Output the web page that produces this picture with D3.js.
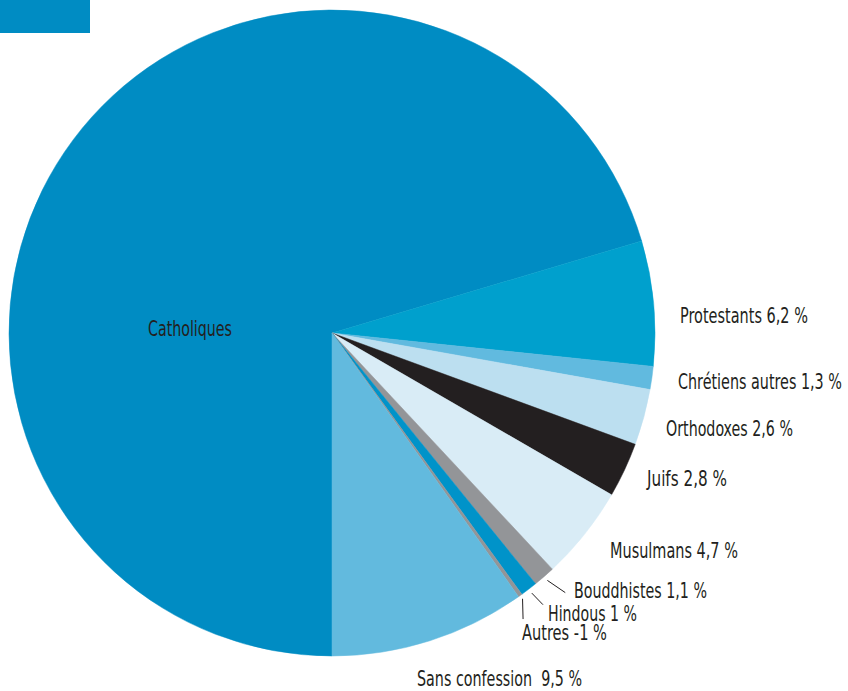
<!DOCTYPE html>
<html>
<head>
<meta charset="utf-8">
<script src="https://cdn.jsdelivr.net/npm/d3@7"></script>
<style>
  html, body { margin: 0; padding: 0; background: #ffffff; }
  svg text { font-family: "Liberation Sans Narrow", "DejaVu Sans Condensed", sans-serif; fill: #231f20; }
</style>
</head>
<body>
<svg id="chart" width="848" height="691"></svg>
<script>
// ---- data ----
const categories = ["Catholiques", "Protestants", "Chrétiens autres", "Orthodoxes", "Juifs",
                    "Musulmans", "Bouddhistes", "Hindous", "Autres", "Sans confession"];
const values = [70.4, 6.25, 1.15, 2.8, 2.75, 4.7, 1.1, 0.85, 0.2, 9.8];
const labels = ["Catholiques", "Protestants 6,2 %", "Chrétiens autres 1,3 %", "Orthodoxes 2,6 %",
                "Juifs 2,8 %", "Musulmans 4,7 %", "Bouddhistes 1,1 %", "Hindous 1 %",
                "Autres -1 %", "Sans confession  9,5 %"];
const colors = ["#008cc3", "#00a0cd", "#61badf", "#bcdff0", "#231f20",
                "#d9ecf6", "#939598", "#0093c9", "#939598", "#62bade"];

// ---- layout (label placement) ----
const labelPos = [
  {x: 148, y: 336, w: 84},
  {x: 680, y: 323, w: 128},
  {x: 678, y: 389, w: 164},
  {x: 666, y: 436, w: 127},
  {x: 647, y: 486, w: 80},
  {x: 610, y: 558, w: 128},
  {x: 574, y: 598, w: 133},
  {x: 548, y: 621, w: 89},
  {x: 522, y: 640, w: 85},
  {x: 417, y: 686, w: 165}
];
// leader lines: end-angle offset in degrees, start/end radius
const leaders = {
  "Bouddhistes": {off: -0.9, r0: 328, r1: 349},
  "Hindous": {off: -0.3, r0: 328, r1: 344},
  "Autres": {off: 1.9, r0: 327, r1: 344}
};

const svg = d3.select("#chart");
const cx = 332, cy = 333, R = 323;

// legend swatch
svg.append("rect").attr("x", 0).attr("y", 0).attr("width", 90).attr("height", 33)
  .attr("fill", colors[0]);

const pie = d3.pie().sort(null).value(d => d.v).startAngle(Math.PI).endAngle(3 * Math.PI);
const data = categories.map((c, i) => ({c, v: values[i], i}));
const arcs = pie(data);
const arc = d3.arc().innerRadius(0).outerRadius(R);

const g = svg.append("g").attr("transform", `translate(${cx},${cy})`);
g.selectAll("path").data(arcs).join("path")
  .attr("d", arc)
  .attr("fill", d => colors[d.data.i])
  .attr("stroke", d => colors[d.data.i])
  .attr("stroke-width", 0.5);

// leader lines
const mid = d => (d.startAngle + d.endAngle) / 2;
const lead = arcs.filter(d => leaders[d.data.c]);
g.selectAll("line.leader").data(lead).join("line")
  .attr("class", "leader")
  .attr("x1", d => d3.pointRadial(mid(d), leaders[d.data.c].r0)[0])
  .attr("y1", d => d3.pointRadial(mid(d), leaders[d.data.c].r0)[1])
  .attr("x2", d => d3.pointRadial(mid(d) + leaders[d.data.c].off * Math.PI / 180, leaders[d.data.c].r1)[0])
  .attr("y2", d => d3.pointRadial(mid(d) + leaders[d.data.c].off * Math.PI / 180, leaders[d.data.c].r1)[1])
  .attr("stroke", "#231f20").attr("stroke-width", 1);

// labels (condensed horizontally to match the reference's narrow typeface)
svg.selectAll("text.lbl").data(labels).join("text")
  .attr("class", "lbl")
  .attr("font-size", 22)
  .attr("xml:space", "preserve")
  .style("white-space", "pre")
  .text(d => d)
  .each(function(d, i) {
    const natural = this.getComputedTextLength();
    const sx = labelPos[i].w / natural;
    d3.select(this).attr("transform", `translate(${labelPos[i].x},${labelPos[i].y}) scale(${sx},1)`);
  });
</script>
</body>
</html>
